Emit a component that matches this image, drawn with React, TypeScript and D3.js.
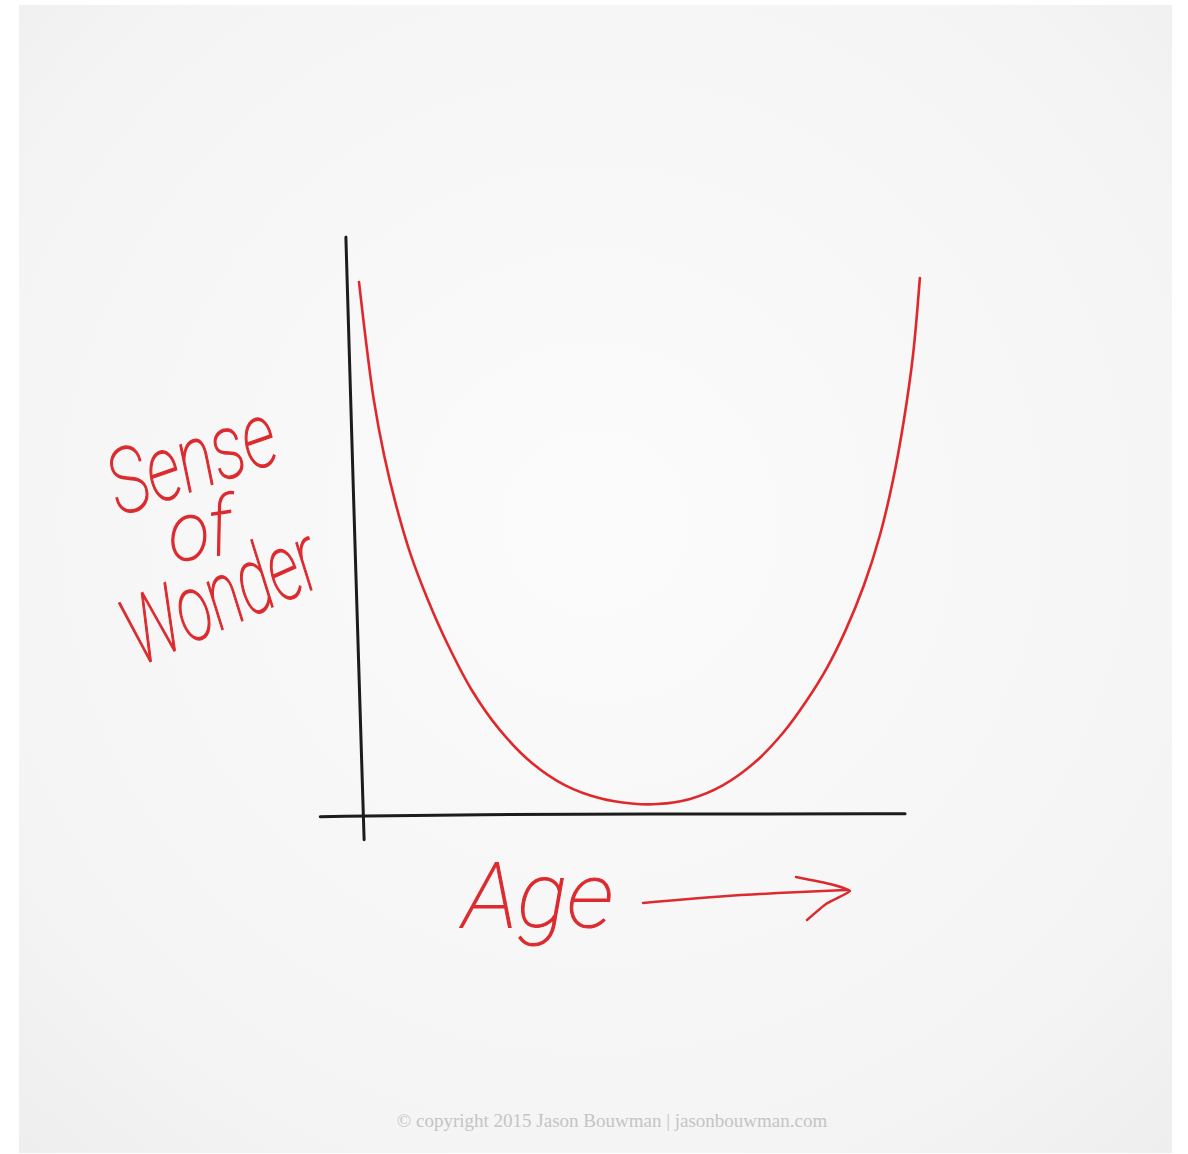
import React from 'react'
import * as d3 from 'd3'

// sense of wonder over a lifetime
const ages = [0.7, 1.9, 3.3, 5.1, 7.2, 9.8, 12.8, 16.3, 20.5, 25.4, 31.1, 36.8, 43.0, 48.5, 53.0, 58.8, 64.6, 70.2, 75.1, 79.1, 82.8, 86.1, 89.3, 92.1, 94.4, 96.3, 97.9, 99.1]
const wonder = [92.7, 82.6, 72.2, 62.6, 53.9, 45.2, 37.4, 29.6, 21.7, 14.8, 9.0, 5.2, 2.9, 2.0, 1.9, 2.8, 5.2, 9.2, 14.3, 19.7, 25.6, 32.2, 40.0, 48.7, 58.3, 68.7, 80.0, 93.4]

// hand drawn axes, slightly off-true
const xAxisAges = [-6.1, 20, 60, 96.5]
const xAxisLevels = [-0.3, 0.1, 0.2, 0.2]
const yAxisAges = [-1.6, 0.2, 1.6]
const yAxisLevels = [100.5, 40, -4.3]

const yLabel = ['Sense', 'of', 'Wonder']
const xLabel = 'Age'
const credit = '\u00a9 copyright 2015 Jason Bouwman | jasonbouwman.com'

export default function App() {
  const width = 1188, height = 1154

  const x = d3.scaleLinear().domain([0, 100]).range([355, 925])
  const y = d3.scaleLinear().domain([0, 100]).range([815, 240])

  const pts: [number, number][] = ages.map((a, i) => [a, wonder[i]])
  const curve = d3.line<[number, number]>()
    .x(d => x(d[0]))
    .y(d => y(d[1]))
    .curve(d3.curveCatmullRom.alpha(0.5))

  const xAxisPath = d3.line<number>()
    .x(d => x(d))
    .y((d, i) => y(xAxisLevels[i]))
    .curve(d3.curveBasis)(xAxisAges)
  const yAxisPath = d3.line<number>()
    .x(d => x(d))
    .y((d, i) => y(yAxisLevels[i]))
    .curve(d3.curveBasis)(yAxisAges)

  const red = '#dc2b2f'
  const hand = {
    fontFamily: 'Roboto, "DejaVu Sans", sans-serif',
    fontWeight: 100,
    fontStyle: 'italic',
    fill: red,
    stroke: red,
    strokeWidth: 0.9,
  } as React.CSSProperties

  // arrow next to "Age"
  const arrow = d3.line().curve(d3.curveBasis)([[643, 903], [720, 896], [800, 892], [848, 890]])
  const head = d3.line().curve(d3.curveCardinal.tension(0.6))([[796, 877], [830, 884], [850, 891], [826, 904], [807, 920]])

  return (
    <svg width={width} height={height} style={{ position: 'absolute', left: 0, top: 0 }}>
      <defs>
        <radialGradient id="paper" cx="50%" cy="45%" r="75%">
          <stop offset="0%" stopColor="#fbfbfb" />
          <stop offset="70%" stopColor="#f5f5f5" />
          <stop offset="100%" stopColor="#eeeeee" />
        </radialGradient>
      </defs>
      <rect width={width} height={height} fill="#ffffff" />
      <rect x={19} y={5} width={1153} height={1148} fill="url(#paper)" />

      <path d={yAxisPath || ''} fill="none" stroke="#1c1c1c" strokeWidth={3} strokeLinecap="round" />
      <path d={xAxisPath || ''} fill="none" stroke="#1c1c1c" strokeWidth={3} strokeLinecap="round" />

      <path d={curve(pts) || ''} fill="none" stroke="#e0282c" strokeWidth={2.6} strokeLinecap="round" />

      <g style={hand}>
        <text transform="translate(120,516) rotate(-19) scale(1,1.55)" fontSize={58} textLength={172} lengthAdjust="spacingAndGlyphs">{yLabel[0]}</text>
        <text transform="translate(172,562) rotate(-8) scale(1,1.45)" fontSize={56} textLength={64} lengthAdjust="spacingAndGlyphs">{yLabel[1]}</text>
        <text transform="translate(140,666) rotate(-24) scale(1,1.6)" fontSize={58} textLength={205} lengthAdjust="spacingAndGlyphs">{yLabel[2]}</text>
        <text transform="translate(463,927) scale(1,1.2)" fontSize={76} textLength={150} lengthAdjust="spacingAndGlyphs">{xLabel}</text>
      </g>
      <path d={arrow || ''} fill="none" stroke={red} strokeWidth={2.5} strokeLinecap="round" />
      <path d={head || ''} fill="none" stroke={red} strokeWidth={2.5} strokeLinecap="round" strokeLinejoin="round" />

      <text x={612} y={1127} textAnchor="middle" fontFamily='"Liberation Serif", serif' fontSize={19} fill="#c4c4c4">
        {credit}
      </text>
    </svg>
  )
}
